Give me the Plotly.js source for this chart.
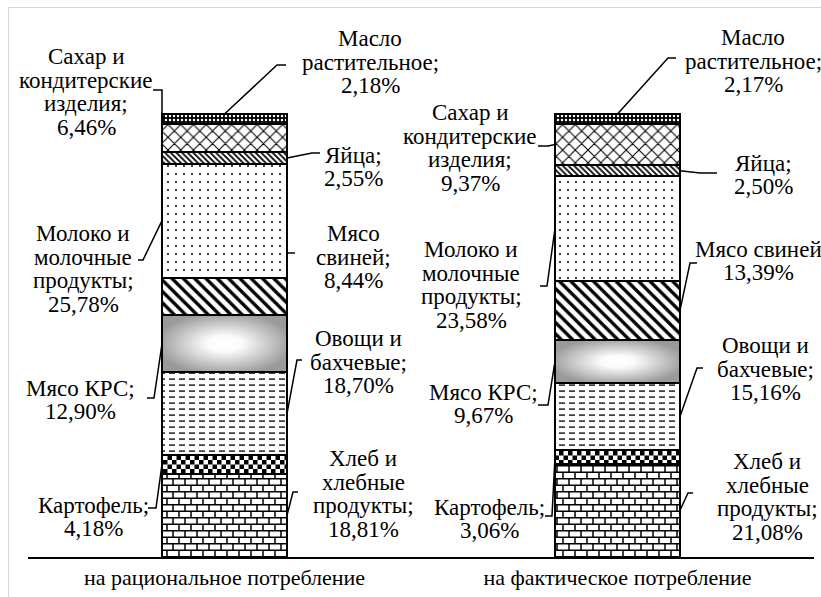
<!DOCTYPE html>
<html>
<head>
<meta charset="utf-8">
<script src="https://cdn.plot.ly/plotly-3.0.1.min.js"></script>
<style>
  html, body { margin: 0; padding: 0; background: #ffffff; overflow: hidden; }
  #chart { position: absolute; left: 0; top: 0; width: 821px; height: 597px; }
  #frame { position: absolute; left: 8px; top: 7px; width: 900px; height: 700px;
           border-left: 1px solid #d6d6d6; border-top: 1px solid #d6d6d6; pointer-events: none; }
</style>
</head>
<body>
<svg width="0" height="0" style="position:absolute;left:0;top:0">
  <defs>
    <pattern id="fillBrick" patternUnits="userSpaceOnUse" width="12" height="13">
      <rect x="0" y="0" width="12" height="13" fill="#ffffff"/>
      <path d="M0,0.75 H12 M0,7.25 H12 M1,0 V6.5 M7,6.5 V13" stroke="#000" stroke-width="1.5" fill="none"/>
    </pattern>
    <pattern id="fillChecker" patternUnits="userSpaceOnUse" width="9" height="9">
      <rect x="0" y="0" width="9" height="9" fill="#ffffff"/>
      <rect x="0" y="0" width="4.5" height="4.5" fill="#000"/>
      <rect x="4.5" y="4.5" width="4.5" height="4.5" fill="#000"/>
    </pattern>
    <pattern id="fillDashes" patternUnits="userSpaceOnUse" width="10" height="6">
      <rect x="0" y="0" width="10" height="6" fill="#ffffff"/>
      <rect x="1" y="2.4" width="6" height="1.4" fill="#111"/>
    </pattern>
    <radialGradient id="fillGlow" cx="0.5" cy="0.5" r="0.55">
      <stop offset="0" stop-color="#ffffff"/>
      <stop offset="0.25" stop-color="#fbfbfb"/>
      <stop offset="1" stop-color="#9a9a9a"/>
    </radialGradient>
  </defs>
</svg>
<div id="chart"></div>
<div id="frame"></div>
<script>
// ---------------- DATA ----------------
const categories = ['на рациональное потребление', 'на фактическое потребление'];
const seriesNames = [
  'Хлеб и хлебные продукты', 'Картофель', 'Овощи и бахчевые', 'Мясо КРС',
  'Мясо свиней', 'Молоко и молочные продукты', 'Яйца',
  'Сахар и кондитерские изделия', 'Масло растительное'
];
const rationalValues = [18.81, 4.18, 18.70, 12.90, 8.44, 25.78, 2.55, 6.46, 2.18];
const actualValues   = [21.08, 3.06, 15.16, 9.67, 13.39, 23.58, 2.50, 9.37, 2.17];
// label name lines (value is appended from the data)
const rationalLabelNames = [
  ['Хлеб и', 'хлебные', 'продукты;'], ['Картофель;'], ['Овощи и', 'бахчевые;'], ['Мясо КРС;'],
  ['Мясо', 'свиней;'], ['Молоко и', 'молочные', 'продукты;'], ['Яйца;'],
  ['Сахар и', 'кондитерские', 'изделия;'], ['Масло', 'растительное;']
];
const actualLabelNames = [
  ['Хлеб и', 'хлебные', 'продукты;'], ['Картофель;'], ['Овощи и', 'бахчевые;'], ['Мясо КРС;'],
  ['Мясо свиней'], ['Молоко и', 'молочные', 'продукты;'], ['Яйца;'],
  ['Сахар и', 'кондитерские', 'изделия;'], ['Масло', 'растительное;']
];

// ---------------- LAYOUT GEOMETRY ----------------
const W = 821, H = 597;
const M = { l: 28, r: 7, t: 10, b: 40 };
const PW = W - M.l - M.r, PH = H - M.t - M.b;
const X_RANGE = [-0.5, 1.5];
const Y_MAX = PH / 4.43;           // 100 % spans 443 px
const BAR_WIDTH = 0.318;
const FONT = 'Liberation Serif';
const FONT_SIZE = 23;
const TICK_SIZE = 22;
const LINE_PX = 23.7;

function px2x(px) { return X_RANGE[0] + (px - M.l) / PW * (X_RANGE[1] - X_RANGE[0]); }
function px2y(py) { return (H - M.b - py) / PH * Y_MAX; }

// label placement in pixels: centre of text block, elbow points of leader, side of bar
const rationalPlacement = [
  { cx: 363, cy: 494, elbow: [[298, 492], [293, 492]], side: 'right' },
  { cx: 93,  cy: 517, elbow: [[148, 508], [156, 508]], side: 'left' },
  { cx: 358, cy: 362, elbow: [[302, 360], [297, 360]], side: 'right' },
  { cx: 80,  cy: 400, elbow: [[147, 398], [154, 398]], side: 'left' },
  { cx: 353, cy: 257, elbow: [[295, 253], [287, 253]], side: 'right' },
  { cx: 83,  cy: 269, elbow: [[138, 260], [143, 260]], side: 'left' },
  { cx: 353, cy: 167, elbow: [[320, 153], [312, 153]], side: 'right' },
  { cx: 86,  cy: 92,  elbow: [[153, 90], [162, 90]], side: 'left' },
  { cx: 370, cy: 62,  elbow: [[286, 65], [277, 65]], side: 'top' }
];
const actualPlacement = [
  { cx: 767, cy: 497, elbow: [[693, 493], [688, 493]], side: 'right' },
  { cx: 489, cy: 519, elbow: [[545, 516], [552, 516]], side: 'left' },
  { cx: 765, cy: 369, elbow: [[703, 368], [697, 368]], side: 'right' },
  { cx: 483, cy: 404, elbow: [[538, 405], [548, 405]], side: 'left' },
  { cx: 758, cy: 261, elbow: [[697, 263], [690, 263]], side: 'right' },
  { cx: 471, cy: 285, elbow: [[540, 286], [547, 286]], side: 'left' },
  { cx: 763, cy: 175, elbow: [[717, 173], [700, 173]], side: 'right' },
  { cx: 470, cy: 148, elbow: [[538, 146], [548, 146]], side: 'left' },
  { cx: 753, cy: 61,  elbow: [[676, 58], [668, 58]], side: 'top' }
];

// ---------------- STYLES ----------------
const patterns = [
  { shape: '' },                                                      // bread (custom brick)
  { shape: '' },                                                      // potato (custom checker)
  { shape: '' },                                                      // vegetables (custom dashes)
  { shape: '' },                                                      // beef (custom gradient)
  { shape: '\\', size: 8, solidity: 0.42, fgcolor: '#000', bgcolor: '#fff', fillmode: 'replace' },
  { shape: '.', size: 8, solidity: 0.05, fgcolor: '#000', bgcolor: '#fff', fillmode: 'replace' },
  { shape: '\\', size: 4, solidity: 0.45, fgcolor: '#000', bgcolor: '#fff', fillmode: 'replace' },
  { shape: 'x', size: 9, solidity: 0.22, fgcolor: '#000', bgcolor: '#fff', fillmode: 'replace' },
  { shape: '.', size: 4, solidity: 0.3, fgcolor: '#fff', bgcolor: '#000', fillmode: 'replace' }
];
const customFills = { 0: 'url(#fillBrick)', 1: 'url(#fillChecker)', 2: 'url(#fillDashes)', 3: 'url(#fillGlow)' };

// ---------------- TRACES ----------------
const barX = [0, 1];
const traces = seriesNames.map((name, i) => ({
  type: 'bar',
  name: name,
  x: barX,
  y: [rationalValues[i], actualValues[i]],
  width: BAR_WIDTH,
  marker: { color: '#ffffff', pattern: patterns[i], line: { color: '#000000', width: 2 } },
  hoverinfo: 'skip',
  showlegend: false
}));

// ---------------- LABELS & LEADERS ----------------
function fmt(v) { return v.toFixed(2).replace('.', ',') + '%'; }
const annotations = [];
const shapes = [];
const barSets = [
  { xb: barX[0], values: rationalValues, names: rationalLabelNames, place: rationalPlacement },
  { xb: barX[1], values: actualValues, names: actualLabelNames, place: actualPlacement }
];
barSets.forEach(set => {
  let base = 0;
  set.values.forEach((v, i) => {
    const p = set.place[i];
    const lines = set.names[i].concat([fmt(v)]);
    const n = lines.length;
    lines.forEach((txt, k) => {
      annotations.push({
        xref: 'x', yref: 'y', x: px2x(p.cx), y: px2y(p.cy + (k - (n - 1) / 2) * LINE_PX),
        text: txt,
        showarrow: false, xanchor: 'center', yanchor: 'middle', align: 'center',
        font: { family: FONT, size: FONT_SIZE, color: '#000' }
      });
    });
    let ex, ey;
    if (p.side === 'left') { ex = set.xb - BAR_WIDTH / 2; ey = base + v / 2; }
    else if (p.side === 'right') { ex = set.xb + BAR_WIDTH / 2; ey = base + v / 2; }
    else { ex = set.xb; ey = base + v; }
    const a = p.elbow[0], b = p.elbow[1];
    shapes.push({
      type: 'path', xref: 'x', yref: 'y', layer: 'above',
      path: 'M ' + px2x(a[0]) + ',' + px2y(a[1]) + ' L ' + px2x(b[0]) + ',' + px2y(b[1]) + ' L ' + ex + ',' + ey,
      line: { color: '#000', width: 1.5 }
    });
    base += v;
  });
});

const layout = {
  width: W, height: H,
  margin: M,
  barmode: 'stack',
  paper_bgcolor: '#ffffff',
  plot_bgcolor: 'rgba(0,0,0,0)',
  showlegend: false,
  font: { family: FONT, size: FONT_SIZE, color: '#000' },
  xaxis: {
    range: X_RANGE, tickmode: 'array', tickvals: barX, ticktext: categories,
    showline: true, linecolor: '#000', linewidth: 2, ticks: '', showgrid: false, zeroline: false,
    tickfont: { family: FONT, size: TICK_SIZE, color: '#000' }, fixedrange: true
  },
  yaxis: { range: [0, Y_MAX], visible: false, showgrid: false, zeroline: false, fixedrange: true },
  annotations: annotations,
  shapes: shapes
};

Plotly.newPlot('chart', traces, layout, { displayModeBar: false }).then(gd => {
  const groups = gd.querySelectorAll('.barlayer .trace');
  Object.keys(customFills).forEach(k => {
    const g = groups[+k];
    if (!g) return;
    g.querySelectorAll('path').forEach(p => { p.style.fill = customFills[k]; });
  });
});
</script>
</body>
</html>
